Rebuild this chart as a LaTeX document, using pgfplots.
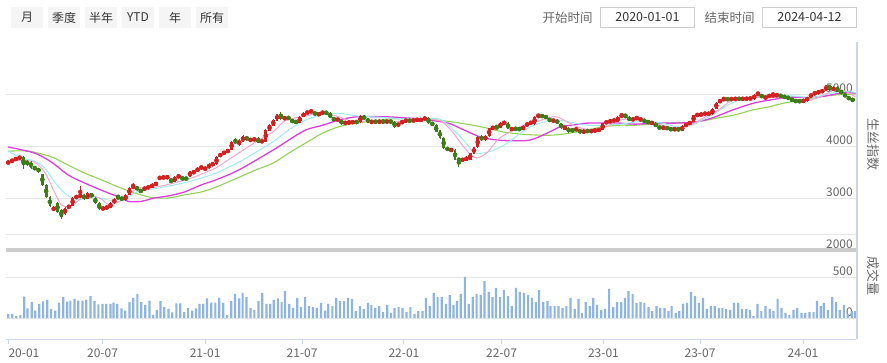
\documentclass[border=0pt]{standalone}
\usepackage{fontspec}
\setmainfont{Noto Sans CJK SC}
\usepackage{pgfplots}
\usepackage{pgfplotstable}
\pgfplotsset{compat=1.18}
\definecolor{upc}{HTML}{D42020}
\definecolor{dnc}{HTML}{3B7D16}
\definecolor{maA}{HTML}{F4A6CF}
\definecolor{maB}{HTML}{9CEDF2}
\definecolor{maC}{HTML}{DD3FDD}
\definecolor{maD}{HTML}{93D152}
\definecolor{volc}{HTML}{8DB4E2}
\definecolor{gridc}{HTML}{E6E6E6}
\definecolor{axc}{HTML}{CCD6EB}
\definecolor{txt}{HTML}{666666}
\definecolor{dark}{HTML}{333333}
\definecolor{btn}{HTML}{F5F5F5}
\definecolor{boxc}{HTML}{CCCCCC}
\definecolor{sepc}{HTML}{CCCCCC}

\pgfplotstableread{
i o h l c
0 3660 3725 3645 3700
1 3700 3745 3690 3730
2 3730 3780 3720 3770
3 3770 3795 3755 3780
4 3790 3810 3560 3640
5 3720 3735 3610 3640
6 3700 3715 3560 3580
7 3580 3600 3550 3565
8 3570 3585 3490 3505
9 3455 3470 3235 3250
10 3250 3265 3000 3025
11 3013 3030 2820 2846
12 2770 2840 2750 2815
13 2900 2920 2720 2738
14 2770 2790 2590 2640
15 2690 2830 2670 2815
16 2810 2870 2795 2850
17 2850 3020 2840 3005
18 3005 3050 2990 3030
19 3010 3230 3000 3070
20 3060 3085 2965 2980
21 2990 3110 2975 3090
22 3090 3105 2995 3010
23 3005 3020 2885 2900
24 2900 2915 2775 2790
25 2790 2825 2770 2810
26 2800 2845 2790 2830
27 2815 2915 2805 2900
28 2900 2995 2890 2980
29 3010 3060 2990 3000
30 2995 3010 2965 2980
31 2960 3075 2950 3060
32 3060 3205 3050 3190
33 3200 3290 3185 3220
34 3220 3235 3140 3155
35 3150 3165 3105 3120
36 3170 3205 3155 3190
37 3190 3235 3180 3220
38 3200 3280 3190 3265
39 3240 3315 3230 3300
40 3380 3410 3365 3390
41 3390 3420 3375 3395
42 3395 3420 3380 3400
43 3340 3380 3300 3310
44 3315 3425 3300 3410
45 3410 3440 3395 3420
46 3410 3425 3330 3345
47 3390 3400 3345 3360
48 3410 3525 3400 3510
49 3470 3535 3460 3520
50 3510 3590 3500 3575
51 3570 3615 3560 3600
52 3550 3590 3540 3575
53 3570 3665 3560 3650
54 3640 3675 3625 3660
55 3650 3805 3640 3790
56 3800 3865 3785 3850
57 3850 3905 3835 3890
58 3870 3950 3860 3935
59 3925 4100 3915 4085
60 4110 4160 4040 4060
61 4020 4140 4005 4100
62 4085 4205 4075 4190
63 4180 4195 4100 4115
64 4110 4140 4095 4120
65 4120 4150 4105 4135
66 4150 4165 4050 4065
67 4065 4130 4050 4115
68 4085 4325 4075 4310
69 4295 4420 4285 4405
70 4390 4515 4380 4500
71 4490 4625 4480 4610
72 4620 4660 4505 4520
73 4525 4560 4510 4540
74 4550 4565 4515 4530
75 4510 4525 4440 4450
76 4470 4485 4440 4455
77 4450 4580 4440 4565
78 4565 4645 4555 4630
79 4630 4670 4620 4655
80 4660 4690 4645 4670
81 4655 4670 4580 4595
82 4590 4645 4580 4630
83 4635 4665 4620 4645
84 4640 4660 4620 4635
85 4630 4645 4530 4545
86 4550 4565 4470 4485
87 4500 4530 4485 4515
88 4500 4515 4410 4425
89 4440 4465 4425 4450
90 4450 4470 4435 4455
91 4440 4490 4430 4475
92 4480 4495 4425 4440
93 4460 4590 4450 4575
94 4580 4595 4500 4515
95 4530 4545 4435 4450
96 4460 4480 4445 4470
97 4470 4485 4450 4462
98 4462 4485 4450 4470
99 4470 4485 4455 4465
100 4465 4485 4455 4472
101 4470 4485 4455 4468
102 4470 4485 4355 4370
103 4385 4450 4375 4435
104 4425 4505 4415 4490
105 4480 4505 4470 4490
106 4490 4500 4470 4485
107 4480 4515 4470 4500
108 4500 4520 4490 4505
109 4475 4540 4465 4525
110 4520 4550 4510 4535
111 4535 4550 4430 4440
112 4445 4460 4395 4405
113 4400 4415 4265 4275
114 4300 4315 4140 4150
115 4150 4165 3950 3960
116 3960 3975 3915 3925
117 3915 3945 3905 3930
118 3925 3940 3725 3735
119 3750 3765 3600 3730
120 3725 3760 3710 3745
121 3720 3800 3710 3785
122 3735 3875 3725 3860
123 3850 3990 3840 3975
124 3975 4185 3965 4170
125 4180 4210 4105 4115
126 4115 4205 4105 4190
127 4190 4355 4180 4340
128 4320 4390 4310 4375
129 4360 4400 4335 4345
130 4355 4465 4345 4450
131 4430 4475 4420 4460
132 4440 4455 4320 4330
133 4320 4345 4310 4330
134 4335 4350 4315 4325
135 4325 4345 4310 4320
136 4310 4400 4300 4385
137 4380 4455 4370 4440
138 4440 4465 4430 4450
139 4420 4570 4410 4555
140 4555 4625 4545 4595
141 4595 4610 4545 4555
142 4560 4575 4540 4550
143 4530 4545 4460 4470
144 4480 4510 4470 4495
145 4500 4515 4425 4435
146 4435 4450 4330 4340
147 4340 4370 4330 4355
148 4350 4365 4255 4265
149 4330 4345 4260 4270
150 4300 4355 4290 4340
151 4320 4335 4235 4245
152 4245 4320 4235 4305
153 4290 4305 4275 4285
154 4285 4300 4270 4290
155 4285 4325 4275 4310
156 4290 4340 4280 4325
157 4310 4450 4300 4435
158 4440 4485 4430 4470
159 4465 4500 4455 4485
160 4485 4505 4475 4495
161 4470 4580 4460 4565
162 4575 4620 4565 4580
163 4575 4610 4560 4570
164 4555 4570 4480 4490
165 4490 4545 4480 4535
166 4535 4555 4520 4540
167 4505 4530 4495 4515
168 4500 4515 4460 4470
169 4485 4495 4425 4435
170 4440 4460 4430 4445
171 4440 4455 4360 4370
172 4360 4370 4340 4350
173 4350 4365 4338 4352
174 4345 4360 4330 4340
175 4340 4350 4295 4305
176 4315 4340 4305 4325
177 4320 4335 4305 4318
178 4295 4395 4285 4385
179 4385 4430 4375 4420
180 4420 4475 4410 4465
181 4465 4600 4455 4590
182 4590 4625 4575 4595
183 4600 4620 4590 4610
184 4620 4640 4605 4625
185 4610 4645 4600 4630
186 4610 4730 4600 4720
187 4720 4840 4710 4830
188 4830 4905 4820 4895
189 4895 4930 4885 4900
190 4900 4915 4885 4898
191 4898 4920 4885 4905
192 4900 4925 4890 4910
193 4910 4920 4895 4905
194 4905 4920 4895 4908
195 4905 4925 4895 4912
196 4905 4935 4895 4920
197 4895 5000 4885 4990
198 4990 5040 4980 5000
199 4985 5000 4925 4935
200 4910 4965 4900 4955
201 4950 4985 4940 4975
202 4965 5030 4955 4975
203 4970 4995 4960 4980
204 4975 4990 4940 4950
205 4955 4965 4925 4935
206 4945 4955 4900 4910
207 4910 4920 4855 4865
208 4866 4880 4850 4862
209 4862 4875 4845 4860
210 4845 4900 4835 4890
211 4865 4950 4855 4940
212 4945 5005 4935 4995
213 4995 5040 4985 5030
214 5020 5060 5010 5050
215 5040 5080 5030 5070
216 5060 5175 5050 5165
217 5165 5180 5060 5070
218 5060 5145 5050 5135
219 5135 5150 5030 5040
220 5070 5080 4995 5005
221 5005 5015 4935 4945
222 4945 4955 4885 4895
223 4895 4905 4870 4880
}\candles

\pgfplotstableread{
i v
0.0 49
1.05 49
2.1 24
3.2 37
4.2 260
5.1 118
6.2 195
7.1 90
8.2 171
9.2 203
10.3 220
11.3 110
12.4 90
13.4 187
14.5 256
15.6 199
16.4 211
17.5 232
18.5 211
19.6 211
20.6 220
21.7 268
22.8 207
23.8 167
24.9 171
25.9 171
27.0 171
27.8 187
28.8 171
29.9 118
30.9 90
32.0 195
33.0 244
34.1 293
35.1 195
36.2 159
37.3 211
38.3 37
39.2 98
40.2 207
41.2 134
42.3 110
43.3 69
44.4 179
45.4 179
46.5 73
47.5 122
48.6 90
49.6 118
50.5 171
51.5 171
52.5 240
53.6 187
54.7 187
55.7 244
56.8 187
57.8 37
58.9 207
59.9 293
61.0 240
61.9 305
62.9 256
64.0 122
65.0 98
66.1 207
67.1 305
68.2 171
69.2 171
70.1 220
71.2 240
72.2 195
73.1 329
74.2 171
75.2 122
76.3 244
77.3 134
78.4 256
79.4 146
80.5 134
81.5 122
82.6 183
83.7 90
84.5 171
85.6 146
86.6 244
87.6 207
88.7 207
89.7 244
90.8 232
91.8 85
92.9 146
93.9 110
95.0 183
95.9 159
96.9 122
98.0 146
99.0 73
100.1 159
101.1 61
102.0 122
103.1 134
104.1 122
105.2 73
106.2 134
107.3 49
108.3 85
109.4 85
110.3 244
111.3 146
112.4 305
113.4 256
114.5 256
115.6 171
116.6 280
117.6 159
118.5 207
119.5 293
120.6 500
121.6 171
122.7 256
123.7 293
124.8 280
125.8 451
126.9 317
127.9 256
128.8 366
129.9 256
130.9 341
132.0 268
133.0 146
134.1 366
135.1 317
136.2 305
137.3 280
138.3 244
139.4 195
140.2 341
141.3 195
142.4 207
143.2 146
144.3 146
145.3 146
146.4 122
147.4 146
148.5 244
149.6 110
150.6 232
151.5 61
152.5 195
153.6 146
154.5 244
155.5 159
156.6 98
157.6 110
158.7 354
159.8 134
160.8 195
161.9 195
162.9 244
163.8 329
164.9 293
165.9 183
167.0 195
168.0 183
169.1 134
170.1 85
171.2 146
172.2 122
173.3 122
174.4 85
175.2 146
176.3 61
177.2 85
178.2 171
179.3 183
180.3 317
181.4 268
182.4 183
183.5 244
184.5 110
185.6 146
186.6 146
187.7 122
188.6 122
189.6 110
190.7 98
191.7 183
192.8 183
193.8 110
194.9 110
195.9 98
196.8 24
197.9 171
198.9 85
200.0 146
201.1 110
202.1 85
203.2 232
204.2 122
205.3 61
206.3 37
207.4 98
208.4 122
209.5 61
210.5 61
211.6 73
212.7 73
213.6 207
214.6 146
215.4 183
216.5 98
217.6 256
218.6 195
219.6 98
220.7 159
221.7 49
222.8 85
223.6 85
}\vol

\begin{document}
\begin{tikzpicture}[x=1pt,y=1pt]
\path[use as bounding box] (0,0) rectangle (887,362);
% toolbar
\foreach \a/\b/\t in {11/43/月,48/80/季度,85/117/半年,122/154/YTD,159/191/年,196/228/所有}{
  \fill[btn] (\a,334) rectangle (\b,355);
  \node[font=\fontsize{12}{12}\selectfont, text=dark, inner sep=0pt] at ({(\a+\b)/2},344.5) {\t};
}
\node[font=\fontsize{12.5}{12.5}\selectfont, text=txt, inner sep=0pt] at (567.5,344.5) {开始时间};
\draw[boxc, line width=0.8pt] (600.5,334.5) rectangle (694.5,354.5);
\node[font=\fontsize{12.5}{12.5}\selectfont, text=dark, inner sep=0pt] at (647.5,344.5) {2020-01-01};
\node[font=\fontsize{12.5}{12.5}\selectfont, text=txt, inner sep=0pt] at (729.5,344.5) {结束时间};
\draw[boxc, line width=0.8pt] (762.5,334.5) rectangle (856.5,354.5);
\node[font=\fontsize{12.5}{12.5}\selectfont, text=dark, inner sep=0pt] at (809.5,344.5) {2024-04-12};

% price pane
\begin{axis}[
  at={(6pt,112pt)}, anchor=south west, scale only axis,
  width=850pt, height=208pt,
  xmin=-0.6, xmax=223.9, ymin=2000, ymax=6000,
  axis line style={draw=none}, tick style={draw=none},
  xtick=\empty,
  ytick={2000,3000,4000,5000}, yticklabels={2000,3000,4000,5000},
  yticklabel pos=right,
  yticklabel style={anchor=south east, inner sep=0pt, xshift=-3pt, yshift=1.5pt, text=txt, font=\fontsize{12}{12}\selectfont},
  ymajorgrids, grid style={gridc, line width=0.9pt},
  extra y ticks={2308}, extra y tick labels={},
]
\addplot[maD, line width=1.1pt, smooth, tension=0.5] coordinates {(0,3900) (5.4,3900) (11.4,3790) (15.9,3630) (20.1,3480) (24.6,3350) (29.1,3210) (33.3,3100) (37.8,3010) (42.3,3000) (46.5,3060) (50.9,3115) (54.9,3210) (59.4,3350) (65.4,3540) (69.9,3670) (74.1,3865) (78.6,4060) (83.1,4250) (87.3,4370) (91.8,4440) (96.3,4480) (100.5,4520) (104.9,4525) (110.3,4520) (117.6,4460) (124.8,4370) (130.8,4270) (135.3,4230) (139.8,4210) (144.0,4210) (148.5,4250) (152.9,4310) (157.2,4370) (161.6,4400) (165.6,4400) (174.3,4440) (181.4,4460) (187.5,4540) (192.0,4600) (196.4,4690) (200.7,4750) (205.2,4830) (209.6,4880) (213.8,4940) (218.3,4980) (223.8,5000)};
\addplot[maC, line width=1.3pt, smooth, tension=0.5] coordinates {(0,3980) (6.9,3865) (11.4,3690) (15.9,3440) (20.1,3290) (24.6,3150) (29.1,3020) (31.7,2935) (35.1,2935) (38.6,3000) (42.3,3040) (46.5,3115) (50.9,3250) (54.9,3350) (60.9,3540) (69.9,3920) (74.1,4115) (78.6,4310) (83.1,4400) (87.3,4500) (91.8,4560) (96.3,4565) (100.5,4560) (104.9,4540) (108.9,4520) (116.1,4440) (120.3,4310) (124.8,4170) (129.2,4115) (133.4,4100) (137.9,4115) (142.4,4250) (145.8,4370) (148.5,4400) (152.9,4440) (157.2,4440) (161.6,4440) (165.6,4420) (170.9,4440) (176.1,4440) (181.4,4460) (185.9,4540) (192.0,4710) (197.2,4830) (202.5,4900) (207.0,4940) (211.2,4930) (215.7,4960) (220.2,5020) (223.8,5020)};
\addplot[maB, line width=1pt, smooth, tension=0.5] coordinates {(0,3900) (3.5,3770) (6.9,3710) (9.6,3580) (12.2,3310) (14.8,3100) (17.5,2980) (20.1,2980) (22.7,3020) (25.4,2980) (28.0,2940) (30.7,2960) (33.3,3100) (35.9,3150) (39.6,3190) (43.8,3250) (47.5,3310) (50.9,3380) (54.9,3480) (60.9,3690) (65.4,3880) (69.9,4080) (74.1,4310) (78.6,4500) (83.1,4600) (87.3,4630) (91.8,4580) (96.3,4560) (100.5,4540) (104.9,4520) (110.3,4530) (114.2,4510) (117.6,4310) (120.3,4115) (122.9,3880) (125.5,3865) (128.2,3920) (131.9,4060) (135.3,4250) (137.9,4370) (141.4,4460) (145.0,4500) (148.5,4460) (152.9,4400) (157.2,4400) (161.6,4420) (165.6,4460) (169.0,4480) (172.7,4440) (176.9,4370) (180.6,4400) (183.3,4500) (186.7,4630) (190.1,4790) (193.8,4900) (198.0,4960) (203.3,4970) (207.8,4960) (212.3,4930) (216.5,5000) (220.2,5050) (223.8,5030)};
\addplot[maA, line width=1pt, smooth, tension=0.5] coordinates {(0,3690) (3.5,3720) (6.9,3690) (9.6,3500) (12.2,3115) (14.0,2870) (15.9,2830) (17.5,2880) (19.3,3000) (22.0,3040) (24.6,2980) (26.4,2880) (29.1,2920) (31.7,3060) (34.3,3190) (37.0,3190) (40.4,3230) (44.9,3310) (48.3,3380) (51.7,3480) (54.9,3580) (56.8,3670) (60.9,3865) (65.4,4080) (69.9,4270) (72.6,4460) (75.2,4530) (78.6,4580) (83.1,4640) (87.3,4560) (91.8,4460) (96.3,4500) (101.6,4470) (106.8,4490) (110.3,4520) (114.2,4480) (116.9,4310) (119.5,4060) (122.1,3830) (123.9,3770) (126.6,3880) (129.2,4115) (131.9,4250) (135.3,4370) (138.7,4440) (142.4,4540) (145.0,4560) (147.7,4460) (151.1,4350) (154.5,4310) (158.2,4380) (161.6,4500) (165.1,4520) (169.0,4460) (172.7,4400) (176.9,4350) (180.6,4420) (184.1,4560) (187.5,4690) (191.2,4880) (194.6,4920) (199.1,4930) (203.3,4930) (207.8,4900) (211.2,4870) (214.9,4960) (218.3,5080) (221.0,5060) (223.8,4940)};
% wicks
\addplot[upc, only marks, mark=none, restrict expr to domain={\thisrow{c}-\thisrow{o}}{0:100000},
  error bars/.cd, y dir=both, y explicit, error mark=none, error bar style={upc, line width=0.8pt}]
  table[x=i, y expr={(\thisrow{h}+\thisrow{l})/2}, y error expr={(\thisrow{h}-\thisrow{l})/2}] {\candles};
\addplot[dnc, only marks, mark=none, restrict expr to domain={\thisrow{c}-\thisrow{o}}{-100000:-0.001},
  error bars/.cd, y dir=both, y explicit, error mark=none, error bar style={dnc, line width=0.8pt}]
  table[x=i, y expr={(\thisrow{h}+\thisrow{l})/2}, y error expr={(\thisrow{h}-\thisrow{l})/2}] {\candles};
% bodies
\addplot[upc, only marks, mark=none, restrict expr to domain={\thisrow{c}-\thisrow{o}}{0:100000},
  error bars/.cd, y dir=both, y explicit, error mark=none, error bar style={upc, line width=2.8pt}]
  table[x=i, y expr={(\thisrow{o}+\thisrow{c})/2}, y error expr={max(abs(\thisrow{c}-\thisrow{o})/2,12)}] {\candles};
\addplot[dnc, only marks, mark=none, restrict expr to domain={\thisrow{c}-\thisrow{o}}{-100000:-0.001},
  error bars/.cd, y dir=both, y explicit, error mark=none, error bar style={dnc, line width=2.8pt}]
  table[x=i, y expr={(\thisrow{o}+\thisrow{c})/2}, y error expr={max(abs(\thisrow{c}-\thisrow{o})/2,12)}] {\candles};
\end{axis}

% volume pane
\begin{axis}[
  at={(6pt,23pt)}, anchor=south west, scale only axis,
  width=850pt, height=84pt,
  xmin=-0.6, xmax=223.9, ymin=-256, ymax=768,
  axis x line*=bottom, axis y line*=right,
  y axis line style={draw=none},
  x axis line style={axc, line width=1pt},
  ytick={0,500}, yticklabels={0,500},
  ytick style={draw=none},
  yticklabel style={anchor=south east, inner sep=0pt, xshift=-3pt, yshift=1.5pt, text=txt, font=\fontsize{12}{12}\selectfont},
  ymajorgrids, grid style={gridc, line width=0.9pt},
  xtick={0.08,24.9,52.0,77.6,104.5,130.3,157.2,182.7,209.9},
  xticklabels={\makebox[0pt][l]{20-01},20-07,21-01,21-07,22-01,22-07,23-01,23-07,24-01},
  xtick align=outside, xtick style={axc, line width=1pt}, major tick length=5pt,
  xticklabel style={text=txt, font=\fontsize{12}{12}\selectfont, yshift=-1.5pt},
]
\addplot[ybar, bar width=2.2pt, fill=volc, draw=none] table[x=i, y=v] {\vol};
\end{axis}

\fill[sepc] (6,110) rectangle (856,114);
\draw[axc, line width=1.5pt] (857,23) -- (857,320);
\node[rotate=-90, text=txt, font=\fontsize{13}{13}\selectfont] at (873,217) {生丝指数};
\node[rotate=-90, text=txt, font=\fontsize{13}{13}\selectfont] at (873,86) {成交量};
\end{tikzpicture}
\end{document}
